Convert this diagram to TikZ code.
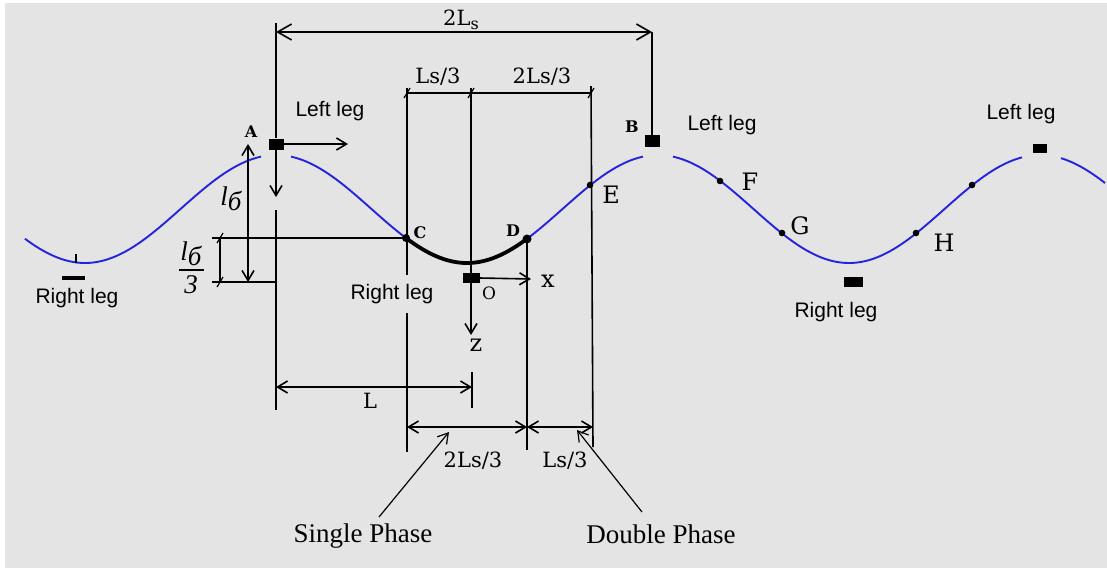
\documentclass[tikz,border=0pt]{standalone}
\usepackage{fontspec}
\setmainfont{Liberation Serif}
\newfontfamily\sansf{Liberation Sans}
\newfontfamily\dser{DejaVu Serif}
\newfontfamily\lserit{Liberation Serif Italic}
\usetikzlibrary{arrows.meta,calc}
\definecolor{bgc}{RGB}{228,228,228}
\definecolor{curveblue}{RGB}{35,35,225}
\begin{document}
\begin{tikzpicture}[x=1pt,y=-1pt,
  >={Straight Barb[length=10pt,width=12pt]},
  dim/.style={line width=1.6pt,black},
  ptr/.style={line width=1.2pt,black},
  curve/.style={line width=1.9pt,curveblue},
  sq/.style={fill=black,inner sep=0pt,minimum width=15pt,minimum height=11pt},
  sanslbl/.style={font=\sansf\fontsize{21}{24}\selectfont,inner sep=0pt},
  serlbl/.style={font=\dser\fontsize{21}{24}\selectfont,inner sep=0pt},
  axlbl/.style={font=\dser\fontsize{24}{26}\selectfont,inner sep=0pt},
  ptlbl/.style={font=\dser\bfseries\fontsize{16}{18}\selectfont,inner sep=0pt},
  biglbl/.style={font=\dser\fontsize{24}{26}\selectfont,inner sep=0pt},
  phase/.style={font=\fontsize{27}{30}\selectfont,inner sep=0pt},
  tick/.style={line width=1.2pt,black}
]
\useasboundingbox (0,0) rectangle (1107,568);
\fill[white] (0,0) rectangle (1107,568);
\fill[bgc] (5,3) rectangle (1107,568);

% ---- sine curve ----
\draw[curve] plot[domain=25:261,samples=80,smooth] (\x,{209+54*cos((\x-85)/191*180)});
\draw[curve] plot[domain=291:643,samples=120,smooth] (\x,{209+54*cos((\x-85)/191*180)});
\draw[curve] plot[domain=673:1022,samples=120,smooth] (\x,{209+54*cos((\x-85)/191*180)});
\draw[curve] plot[domain=1061:1105,samples=30,smooth] (\x,{209+54*cos((\x-85)/191*180)});
% thick arc C-D
\draw[line width=3.8pt,black,line cap=round] plot[domain=406:527,samples=60,smooth] (\x,{209+54*cos((\x-85)/191*180)});

% ---- points on curve ----
\coordinate (C) at (406,238);
\coordinate (D) at (527,239);
\coordinate (E) at (590,185);
\coordinate (F) at (720,181);
\coordinate (G) at (782,233);
\coordinate (H) at (916,233);
\coordinate (K) at (972,185);
\fill (C) circle (4pt);
\fill (D) circle (4.5pt);
\foreach \p in {E,F,G,H,K} \fill (\p) circle (3.3pt);

% ---- legs (squares) ----
\node[sq] (sqA) at (276,144) {};
\node[sq,minimum width=15pt,minimum height=12pt] (sqB) at (652,141) {};
\node[sq,minimum width=14pt,minimum height=9pt] (sqR) at (1040,148) {};
\node[sq,minimum width=19pt,minimum height=10pt] (sqT) at (853,282) {};
\node[sq,minimum width=17pt,minimum height=10pt] (sqO) at (471,278) {};
\node[fill=black,inner sep=0pt,minimum width=23pt,minimum height=4pt] (barL) at (73,278) {};
\coordinate (tkA) at (76,254);
\coordinate (tkB) at (76,263);
\draw[line width=1.2pt] (tkA) -- (tkB);

% ---- 2Ls dimension ----
\coordinate (Atop) at (276,23);
\coordinate (A2) at (276,32);
\coordinate (B2) at (652,32);
\draw[dim] (Atop) -- (sqA.north);
\draw[dim] (B2) -- (sqB.north);
\draw[dim,<->,>={Straight Barb[length=14pt,width=16pt]}] (A2) -- (B2);
\node[serlbl] (l2Ls) at (461,20) {2L\raisebox{-4pt}{\fontsize{16}{16}\selectfont s}};

% ---- A axes ----
\coordinate (Ar) at (348,144);
\coordinate (Ad) at (276,197);
\draw[dim,->] (sqA.east) -- (Ar);
\draw[dim,->] (sqA.south) -- (Ad);
\coordinate (Alow1) at (276,210);
\coordinate (Alow2) at (276,410);
\draw[dim] (Alow1) -- (Alow2);

% ---- l6 dimensions ----
\coordinate (l6a) at (248,144);
\coordinate (l6b) at (248,282);
\draw[dim,<->] (l6a) -- (l6b);
\coordinate (h1) at (212,238);
\coordinate (h2) at (212,282);
\coordinate (h2e) at (276,282);
\draw[dim] (h1) -- (C);
\draw[dim] (h2) -- (h2e);
\coordinate (v3a) at (220,238);
\coordinate (v3b) at (220,282);
\draw[dim] (v3a) -- (v3b);
\draw[tick] ($(v3a)+(-3,5)$) -- ($(v3a)+(3,-5)$);
\draw[tick] ($(v3b)+(-3,5)$) -- ($(v3b)+(3,-5)$);
\node[font=\lserit\fontsize{27}{28}\selectfont,inner sep=0pt] (l6lbl) at (231,199) {l\raisebox{-5pt}{б}};
\node[font=\lserit\fontsize{27}{28}\selectfont,inner sep=0pt] (l6num) at (191,254) {l\raisebox{-5pt}{б}};
\coordinate (fb1) at (179,270);
\coordinate (fb2) at (204,270);
\draw[line width=1.4pt] (fb1) -- (fb2);
\node[font=\lserit\fontsize{27}{28}\selectfont,inner sep=0pt] (l6den) at (191,285) {3};

% ---- top dimension Ls/3, 2Ls/3 ----
\coordinate (tC) at (407,88);
\coordinate (tO) at (471,88);
\coordinate (tE) at (591,86);
\coordinate (dC) at (407,93);
\coordinate (dO) at (471,93);
\coordinate (dE) at (591,93);
\coordinate (cL1) at (407,275);
\coordinate (cL2) at (407,313);
\coordinate (cL3) at (407,452);
\coordinate (eL) at (593,447);
\draw[dim] (tC) -- (cL1);
\draw[dim] (cL2) -- (cL3);
\draw[dim] (tO) -- (sqO.north);
\draw[dim] (tE) -- (eL);
\draw[dim] (dC) -- (dE);
\foreach \p in {dC,dO,dE} \draw[tick] ($(\p)+(-3,5)$) -- ($(\p)+(3,-5)$);
\node[serlbl] (lLs1) at (438,77) {Ls/3};
\node[serlbl] (l2Ls1) at (542,77) {2Ls/3};

% ---- D line ----
\coordinate (Dlow) at (527,450);
\draw[dim] (D) -- (Dlow);

% ---- O axes ----
\coordinate (Ox) at (531,279);
\coordinate (Oz) at (471,335);
\draw[dim,->] (sqO.east) -- (Ox);
\draw[dim,->] (sqO.south) -- (Oz);
\node[axlbl] (xl) at (548,281) {x};
\node[axlbl] (zl) at (476,345) {z};
\node[font=\dser\fontsize{17}{20}\selectfont,inner sep=0pt] (ol) at (489,293) {O};

% ---- L dimension ----
\coordinate (La) at (276,387);
\coordinate (Lb) at (472,387);
\coordinate (Lt1) at (472,372);
\coordinate (Lt2) at (472,408);
\draw[dim,<->] (La) -- (Lb);
\draw[dim] (Lt1) -- (Lt2);
\node[serlbl] (Ll) at (370,401) {L};

% ---- bottom dimensions ----
\coordinate (b1) at (407,427);
\coordinate (b2) at (527,427);
\coordinate (b3) at (593,427);
\draw[dim,<->] (b1) -- (b2);
\draw[dim,<->] (b2) -- (b3);
\node[serlbl] (l2Ls2) at (473,461) {2Ls/3};
\node[serlbl] (lLs2) at (565,461) {Ls/3};

% ---- phase labels ----
\node[phase] (sp) at (363,536) {Single Phase};
\node[phase] (dp) at (661,534) {Double Phase};
\coordinate (spa) at (379,517);
\coordinate (spb) at (449,432);
\coordinate (dpa) at (642,512);
\coordinate (dpb) at (577,430);
\draw[ptr,->] (spa) -- (spb);
\draw[ptr,->] (dpa) -- (dpb);

% ---- point labels ----
\node[ptlbl] (lA) at (251,132) {A};
\node[ptlbl] (lB) at (632,127) {B};
\node[ptlbl] (lC) at (420,233) {C};
\node[ptlbl] (lD) at (513,231) {D};
\node[biglbl] (lE) at (611,195) {E};
\node[biglbl] (lF) at (750,182) {F};
\node[biglbl] (lG) at (800,226) {G};
\node[biglbl] (lH) at (944,243) {H};

% ---- leg labels ----
\node[sanslbl] (ll1) at (330,111) {Left leg};
\node[sanslbl] (ll2) at (722,125) {Left leg};
\node[sanslbl] (ll3) at (1021,114) {Left leg};
\node[sanslbl] (rl1) at (77,298) {Right leg};
\node[sanslbl] (rl2) at (392,294) {Right leg};
\node[sanslbl] (rl3) at (836,312) {Right leg};
\end{tikzpicture}
\end{document}
